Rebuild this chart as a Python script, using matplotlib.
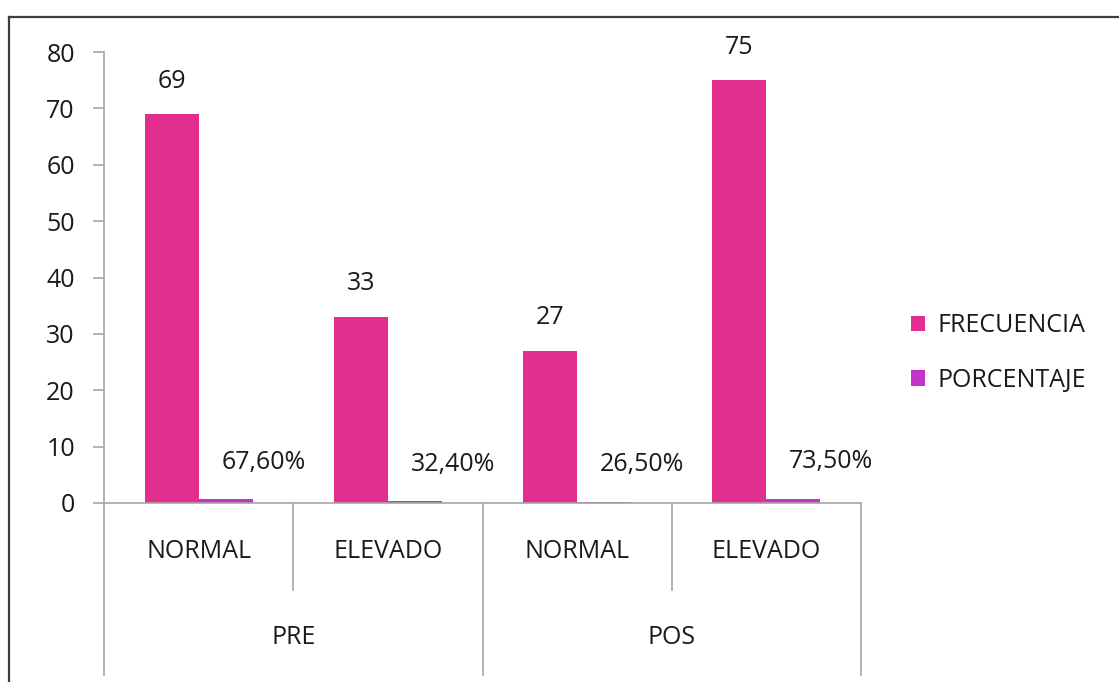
import matplotlib
matplotlib.use("Agg")
import matplotlib.pyplot as plt
from matplotlib.lines import Line2D
from matplotlib.patches import Patch
import numpy as np

plt.rcParams['font.family'] = ['Open Sans', 'DejaVu Sans']

# Data
groups = ["PRE", "POS"]
categories = ["NORMAL", "ELEVADO", "NORMAL", "ELEVADO"]
frecuencia = [69, 33, 27, 75]
porcentaje = [0.676, 0.324, 0.265, 0.735]
porcentaje_labels = ["67,60%", "32,40%", "26,50%", "73,50%"]
series_names = ["FRECUENCIA", "PORCENTAJE"]
yticks = [0, 10, 20, 30, 40, 50, 60, 70, 80]

c_frec = "#E22E8F"
c_pct = "#C832C8"
axis_gray = "#A6A6A6"
text_color = "#1a1a1a"
FS = 18

W, H = 1119, 682
fig = plt.figure(figsize=(W / 100, H / 100), dpi=100)

x_left, x_right = 104, 861
y_zero, y_top = 503, 52
ax = fig.add_axes([x_left / W, (H - y_zero) / H,
                   (x_right - x_left) / W, (y_zero - y_top) / H])

x = np.arange(len(categories))
w = 1 / 3.5
ax.bar(x - w / 2, frecuencia, width=w, color=c_frec, label=series_names[0])
ax.bar(x + w / 2, porcentaje, width=w, color=c_pct, label=series_names[1])

ax.set_xlim(-0.5, len(categories) - 0.5)
ax.set_ylim(0, 80)
ax.set_yticks(yticks)
ax.set_yticklabels([str(v) for v in yticks], fontsize=FS, color=text_color)
ax.set_xticks([])

for s in ["top", "right"]:
    ax.spines[s].set_visible(False)
for s in ["left", "bottom"]:
    ax.spines[s].set_color(axis_gray)
    ax.spines[s].set_linewidth(1.2)
ax.tick_params(axis="y", direction="out", length=8, color=axis_gray, width=1.2, pad=13)

# Value labels
for xi, v in zip(x, frecuencia):
    ax.annotate(str(v), (xi - w / 2, v), xytext=(0, 33), textcoords="offset pixels",
                ha="center", va="center", fontsize=FS, color=text_color)
for xi, v, lab in zip(x, porcentaje, porcentaje_labels):
    ax.annotate(lab, (xi + w / 2 + 0.2, v), xytext=(0, 37), textcoords="offset pixels",
                ha="center", va="center", fontsize=FS, color=text_color)

# Category and group labels under the axis
tr = ax.get_xaxis_transform()
def px_to_axes_y(py):
    return (y_zero - py) / (y_zero - y_top)

for xi, c in zip(x, categories):
    ax.text(xi, px_to_axes_y(552), c, transform=tr, ha="center", va="center",
            fontsize=FS, color=text_color, clip_on=False)
for gi, g in enumerate(groups):
    ax.text(gi * 2 + 0.5, px_to_axes_y(638), g, transform=tr, ha="center", va="center",
            fontsize=FS, color=text_color, clip_on=False)

# Separator lines
for xb in [-0.5, 1.5, 3.5]:
    ax.add_line(Line2D([xb, xb], [0, px_to_axes_y(675)], transform=tr,
                       color=axis_gray, lw=1.2, clip_on=False))
for xb in [0.5, 2.5]:
    ax.add_line(Line2D([xb, xb], [0, px_to_axes_y(590)], transform=tr,
                       color=axis_gray, lw=1.2, clip_on=False))

# Legend
handles = [Patch(facecolor=c_frec), Patch(facecolor=c_pct)]
leg = fig.legend(handles, series_names, loc="center left",
                 bbox_to_anchor=(911 / W, (H - 353) / H), frameon=False,
                 borderpad=0, borderaxespad=0,
                 fontsize=FS, handlelength=0.56, handleheight=0.56,
                 handletextpad=0.48, labelspacing=1.18)
for t in leg.get_texts():
    t.set_color(text_color)

# Chart area border
fig.add_artist(Line2D([9 / W, 1], [(H - 17) / H, (H - 17) / H], transform=fig.transFigure,
                      color="#3c3c3c", lw=1.6))
fig.add_artist(Line2D([9 / W, 9 / W], [0, (H - 17) / H], transform=fig.transFigure,
                      color="#3c3c3c", lw=1.6))

fig.savefig("out.png", dpi=100, facecolor="white")
